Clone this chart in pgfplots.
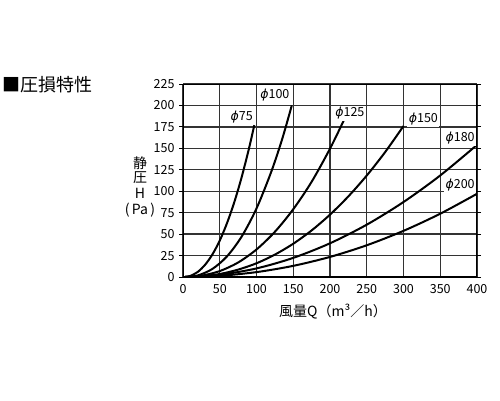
\documentclass[border=0pt]{standalone}
\usepackage{fontspec}
\setmainfont{Noto Sans CJK JP}
\newfontfamily\dejavu{DejaVu Sans}
\usepackage{pgfplots}
\pgfplotsset{compat=1.18}
\newcommand{\dia}[1]{{\dejavu\itshape ϕ}#1}
\begin{document}
\begin{tikzpicture}[x=1pt,y=1pt]
\path[use as bounding box] (0,0) rectangle (500,400);
\node[anchor=west, inner sep=0pt, font=\fontsize{18}{18}\selectfont] at (2,315) {■圧損特性};
\begin{axis}[
    at={(183pt,123pt)}, anchor=south west,
    width=294pt, height=193pt, scale only axis,
    xmin=0, xmax=400, ymin=0, ymax=225,
    xtick={0,50,...,400}, ytick={0,25,...,225},
    grid=major,
    major grid style={draw=black!80, line width=1.3pt},
    axis line style={draw=none},
    tick align=outside, major tick length=4pt,
    xtick style={draw=none},
    ytick style={black, line width=1pt},
    ticklabel style={font=\fontsize{12.5}{12.5}\selectfont},
    yticklabel style={xshift=-1pt},
    /pgf/number format/assume math mode=true,
]
\addplot[black, line width=2pt, smooth] coordinates {
    (3,0) (10,1.3) (20,5.9) (30,14.2) (40,26.3) (50,42.5) (60,63.1) (70,87.8) (80,117) (90,150.7) (97,177)
};
\addplot[black, line width=2pt, smooth] coordinates {
    (3,0) (20,1.8) (40,9.4) (60,24.2) (80,47.4) (100,79.9) (120,122.5) (135,161) (148,200)
};
\addplot[black, line width=2pt, smooth] coordinates {
    (3,0) (25,1.5) (50,6.9) (75,16.9) (100,32.1) (125,52.7) (150,79) (175,111) (200,149.6) (219,183)
};
\addplot[black, line width=2pt, smooth] coordinates {
    (3,0) (25,0.8) (50,3.5) (75,8.6) (100,16) (125,26.1) (150,38.8) (175,54.3) (200,72.7) (225,94) (250,118.3) (275,145.6) (300,176)
};
\addplot[black, line width=2pt, smooth] coordinates {
    (3,0) (50,2.6) (100,10) (150,22.3) (200,39.3) (250,61) (300,87.4) (350,118.4) (400,154)
};
\addplot[black, line width=2pt, smooth] coordinates {
    (3,0) (50,1.4) (100,5.7) (150,13) (200,23.4) (250,37) (300,53.8) (350,73.8) (400,97)
};
\begin{scope}[every node/.style={fill=white, inner sep=1.5pt, font=\fontsize{12.5}{12.5}\selectfont}]
\node at (axis cs:80,187) {\dia{75}};
\node at (axis cs:125,212) {\dia{100}};
\node at (axis cs:227,191) {\dia{125}};
\node at (axis cs:327,184) {\dia{150}};
\node at (axis cs:377,162) {\dia{180}};
\node at (axis cs:377,107) {\dia{200}};
\end{scope}
\draw[black, line width=2.5pt] (rel axis cs:0,0) rectangle (rel axis cs:1,1);
\end{axis}
\node[font=\fontsize{14}{14}\selectfont] at (333,88) {風量Q（m³／h）};
\node[font=\fontsize{14}{16}\selectfont, align=center] at (140,213) {静\\[-2pt]圧\\H\\(\,Pa\,)};
\end{tikzpicture}
\end{document}
